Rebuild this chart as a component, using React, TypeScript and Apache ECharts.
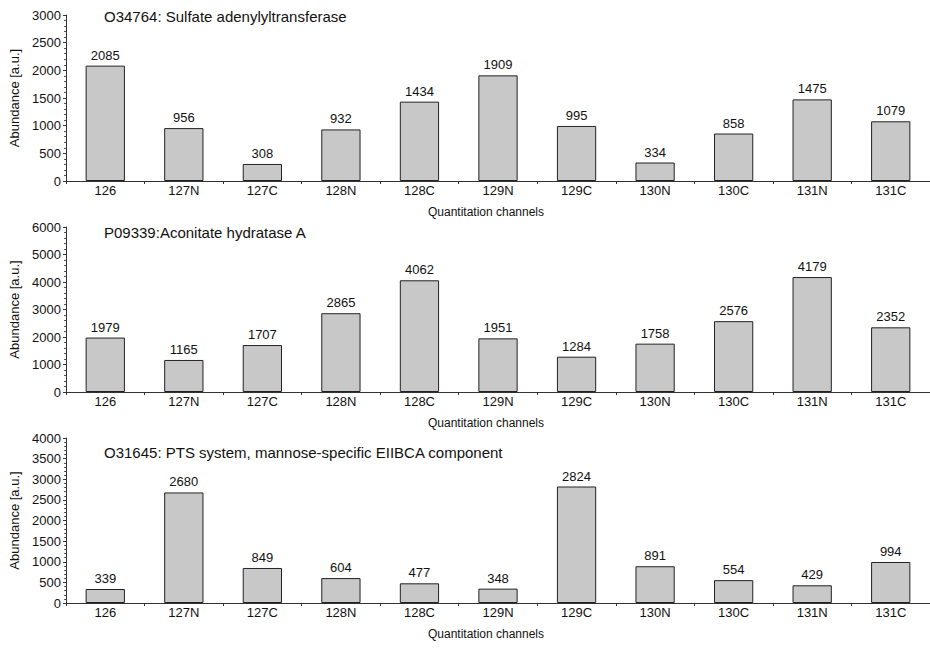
import React, { useEffect, useRef } from "react";
import * as echarts from "echarts";

const categories = ["126", "127N", "127C", "128N", "128C", "129N", "129C", "130N", "130C", "131N", "131C"];
const titles = [
  "O34764: Sulfate adenylyltransferase",
  "P09339:Aconitate hydratase A",
  "O31645: PTS system, mannose-specific EIIBCA component",
];
const sulfateValues = [2085, 956, 308, 932, 1434, 1909, 995, 334, 858, 1475, 1079];
const aconitateValues = [1979, 1165, 1707, 2865, 4062, 1951, 1284, 1758, 2576, 4179, 2352];
const ptsValues = [339, 2680, 849, 604, 477, 348, 2824, 891, 554, 429, 994];
const yMaxes = [3000, 6000, 4000];
const yIntervals = [500, 1000, 500];
const xAxisName = "Quantitation channels";
const yAxisName = "Abundance [a.u.]";

export default function App() {
  const ref = useRef<HTMLDivElement>(null);
  useEffect(() => {
    if (!ref.current) return;
    const chart = echarts.init(ref.current, null, { renderer: "svg" });
    const font = "'Liberation Sans', Arial, Helvetica, sans-serif";
    const tops = [15, 227, 438];
    const heights = [166, 165, 165];
    const seriesData = [sulfateValues, aconitateValues, ptsValues];
    const titleTops = [9, 225, 445];
    chart.setOption({
      animation: false,
      textStyle: { fontFamily: font },
      title: titles.map((t, i) => ({
        text: t,
        left: 104,
        top: titleTops[i],
        padding: 0,
        textStyle: { fontSize: 15, fontWeight: "normal", color: "#111", fontFamily: font },
      })),
      grid: tops.map((t, i) => ({ left: 66, width: 872, top: t, height: heights[i] })),
      xAxis: tops.map((_, i) => ({
        type: "category",
        gridIndex: i,
        data: categories,
        name: xAxisName,
        nameLocation: "middle",
        nameGap: 25,
        nameTextStyle: { fontSize: 12, color: "#111", padding: [0, 24, 0, 0] },
        axisLine: { lineStyle: { color: "#333", width: 1 } },
        axisTick: { show: true, length: 3, inside: false, lineStyle: { color: "#333" } },
        axisLabel: { fontSize: 13, color: "#111", margin: 3 },
        splitLine: { show: false },
      })),
      yAxis: tops.map((_, i) => ({
        type: "value",
        gridIndex: i,
        min: 0,
        max: yMaxes[i],
        interval: yIntervals[i],
        name: yAxisName,
        nameLocation: "middle",
        nameGap: 43,
        nameTextStyle: { fontSize: 13, color: "#111" },
        axisLine: { show: true, lineStyle: { color: "#333", width: 1 } },
        axisTick: { show: true, length: 3, lineStyle: { color: "#333" } },
        minorTick: { show: true, splitNumber: 5, length: 2, lineStyle: { color: "#555" } },
        axisLabel: { fontSize: 13, color: "#111", margin: 5, formatter: (v: number) => String(v) },
        splitLine: { show: false },
      })),
      series: seriesData.map((d, i) => ({
        type: "bar",
        xAxisIndex: i,
        yAxisIndex: i,
        data: d,
        barWidth: "50%",
        itemStyle: { color: "#c8c8c8", borderColor: "#222", borderWidth: 1 },
        label: { show: true, position: "top", distance: 4, fontSize: 13, color: "#111" },
      })),
    });
    return () => chart.dispose();
  }, []);
  return <div ref={ref} style={{ width: 930, height: 648, position: "absolute", left: 0, top: 0 }} />;
}
